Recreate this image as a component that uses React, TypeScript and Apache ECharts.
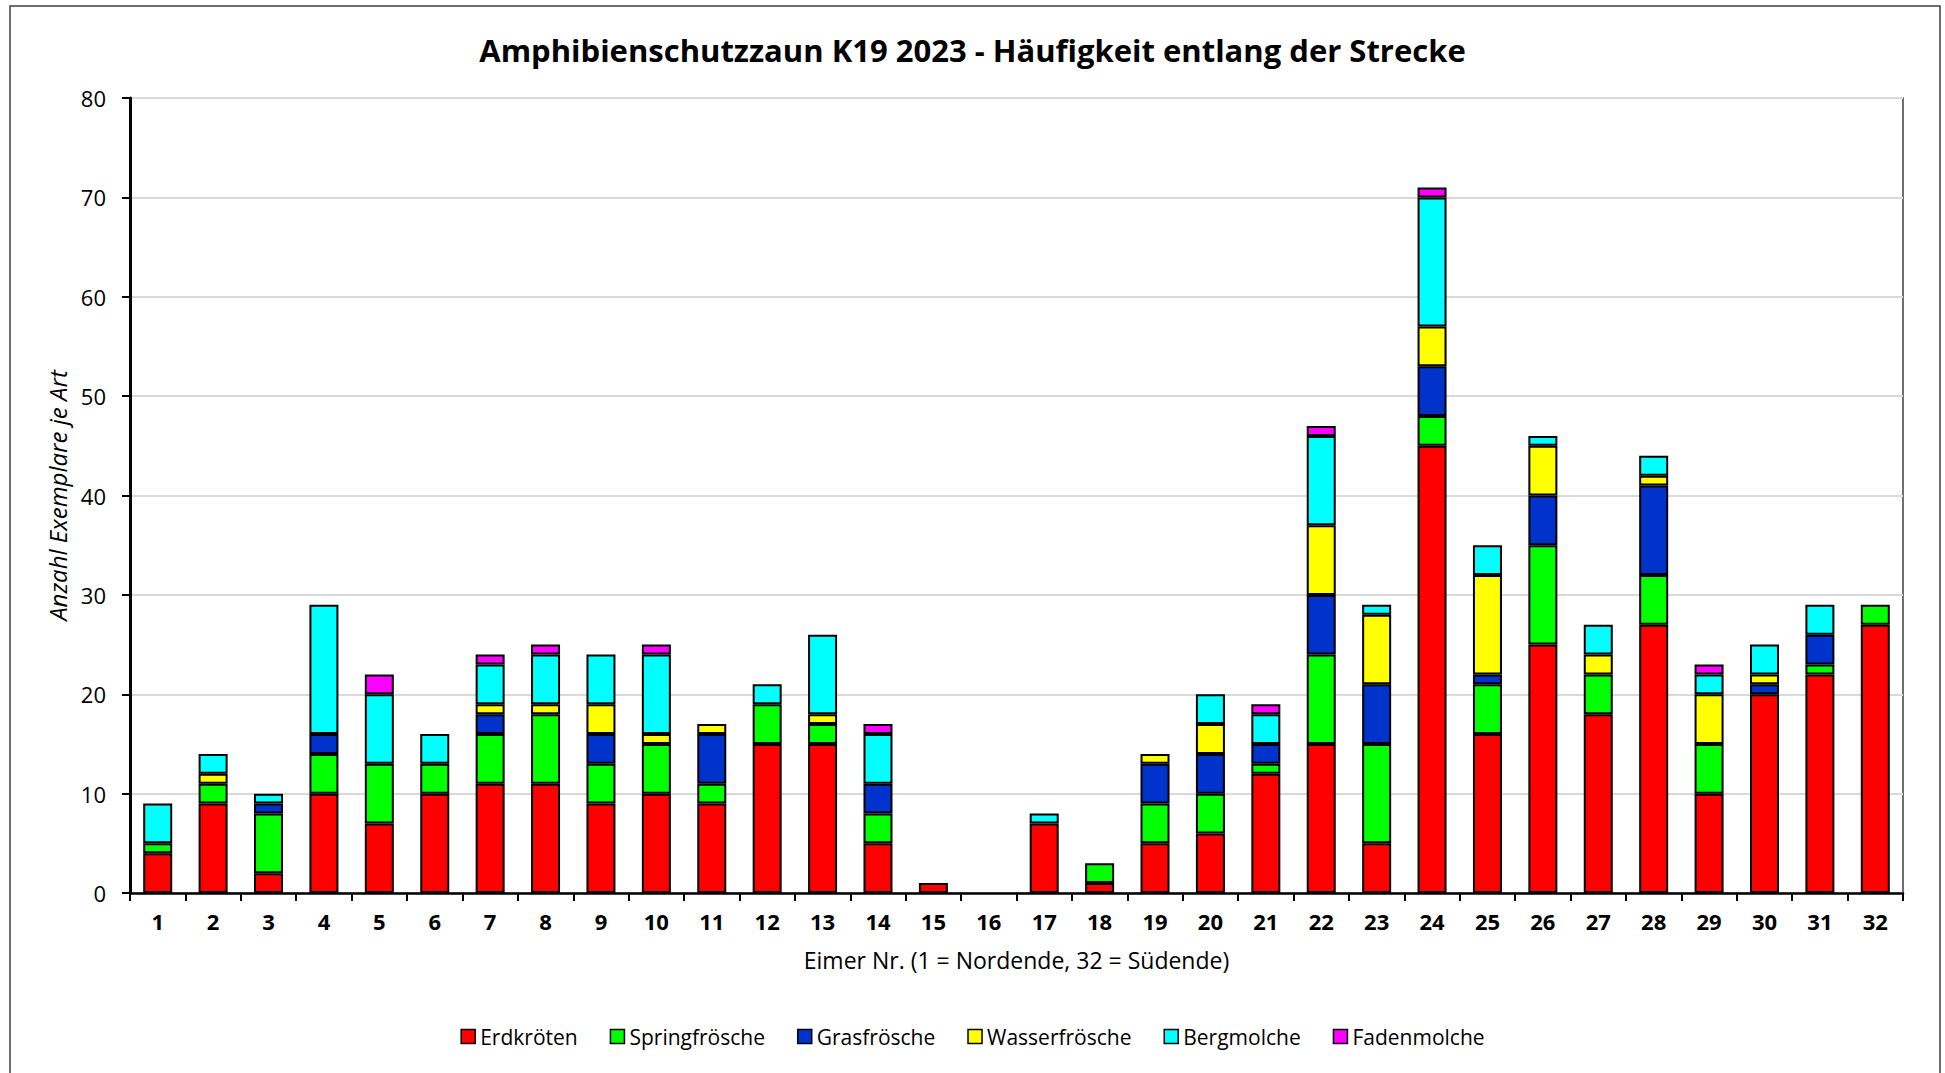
import React, { useEffect, useRef } from "react";
import * as echarts from "echarts";

const categories = Array.from({ length: 32 }, (_, i) => String(i + 1));
const seriesNames = ["Erdkröten", "Springfrösche", "Grasfrösche", "Wasserfrösche", "Bergmolche", "Fadenmolche"];
const seriesColors = ["#FF0000", "#00FF00", "#0033CC", "#FFFF00", "#00FFFF", "#FF00FF"];

const erdkroeten = [4, 9, 2, 10, 7, 10, 11, 11, 9, 10, 9, 15, 15, 5, 1, 0, 7, 1, 5, 6, 12, 15, 5, 45, 16, 25, 18, 27, 10, 20, 22, 27];
const springfroesche = [1, 2, 6, 4, 6, 3, 5, 7, 4, 5, 2, 4, 2, 3, 0, 0, 0, 2, 4, 4, 1, 9, 10, 3, 5, 10, 4, 5, 5, 0, 1, 2];
const grasfroesche = [0, 0, 1, 2, 0, 0, 2, 0, 3, 0, 5, 0, 0, 3, 0, 0, 0, 0, 4, 4, 2, 6, 6, 5, 1, 5, 0, 9, 0, 1, 3, 0];
const wasserfroesche = [0, 1, 0, 0, 0, 0, 1, 1, 3, 1, 1, 0, 1, 0, 0, 0, 0, 0, 1, 3, 0, 7, 7, 4, 10, 5, 2, 1, 5, 1, 0, 0];
const bergmolche = [4, 2, 1, 13, 7, 3, 4, 5, 5, 8, 0, 2, 8, 5, 0, 0, 1, 0, 0, 3, 3, 9, 1, 13, 3, 1, 3, 2, 2, 3, 3, 0];
const fadenmolche = [0, 0, 0, 0, 2, 0, 1, 1, 0, 1, 0, 0, 0, 1, 0, 0, 0, 0, 0, 0, 1, 1, 0, 1, 0, 0, 0, 0, 1, 0, 0, 0];

const seriesValues = [erdkroeten, springfroesche, grasfroesche, wasserfroesche, bergmolche, fadenmolche];

const FONT = "'Open Sans', sans-serif";

export default function App() {
  const ref = useRef<HTMLDivElement>(null);

  useEffect(() => {
    document.body.style.margin = "0";
    if (!ref.current) return;
    const chart = echarts.init(ref.current, null, { renderer: "svg" });
    const option = {
      animation: false,
      backgroundColor: "#ffffff",
      textStyle: { fontFamily: FONT, color: "#000" },
      title: {
        text: "Amphibienschutzzaun K19 2023 - Häufigkeit entlang der Strecke",
        left: "center",
        top: 29,
        textStyle: { fontFamily: FONT, fontSize: 31, fontWeight: "bold", color: "#000" },
      },
      legend: {
        data: seriesNames,
        bottom: 21,
        left: "center",
        itemWidth: 14,
        itemHeight: 14,
        itemGap: 32,
        icon: "rect",
        itemStyle: { borderColor: "#000", borderWidth: 1.5 },
        textStyle: { fontFamily: FONT, fontSize: 21, color: "#000" },
      },
      grid: {
        left: 130,
        right: 42,
        top: 98,
        bottom: 180,
        show: true,
        borderColor: "#404040",
        borderWidth: 1.5,
        backgroundColor: "transparent",
      },
      xAxis: {
        type: "category",
        data: categories,
        boundaryGap: true,
        name: "Eimer Nr. (1 = Nordende, 32 = Südende)",
        nameLocation: "middle",
        nameGap: 55,
        nameTextStyle: { fontFamily: FONT, fontSize: 23, color: "#000" },
        axisLine: { lineStyle: { color: "#000", width: 2.5 } },
        axisTick: { show: true, length: 8, lineStyle: { color: "#000", width: 2 } },
        axisLabel: { fontFamily: FONT, fontSize: 22, fontWeight: "bold", color: "#000", margin: 17, interval: 0 },
      },
      yAxis: {
        type: "value",
        min: 0,
        max: 80,
        interval: 10,
        name: "Anzahl Exemplare je Art",
        nameLocation: "middle",
        nameGap: 60,
        nameTextStyle: { fontFamily: FONT, fontSize: 24, fontStyle: "italic", color: "#000" },
        axisLine: { show: true, lineStyle: { color: "#000", width: 3 } },
        axisTick: { show: true, length: 8, lineStyle: { color: "#000", width: 2 } },
        axisLabel: { fontFamily: FONT, fontSize: 22, color: "#000", margin: 24 },
        splitLine: { show: true, lineStyle: { color: "#d9d9d9", width: 2 } },
      },
      series: seriesNames.map((name, i) => ({
        name,
        type: "bar",
        stack: "total",
        barWidth: 29,
        data: seriesValues[i].map((v) => (v === 0 ? "-" : v)),
        itemStyle: { color: seriesColors[i], borderColor: "#000", borderWidth: 2 },
      })),
      graphic: [
        {
          type: "rect",
          shape: { x: 10, y: 6, width: 1930, height: 1080 },
          style: { fill: "none", stroke: "#404040", lineWidth: 1.5 },
          silent: true,
          z: -1,
        },
      ],
    };
    chart.setOption(option as any);
    return () => chart.dispose();
  }, []);

  return <div ref={ref} style={{ position: "absolute", left: 0, top: 0, width: 1945, height: 1073 }} />;
}
